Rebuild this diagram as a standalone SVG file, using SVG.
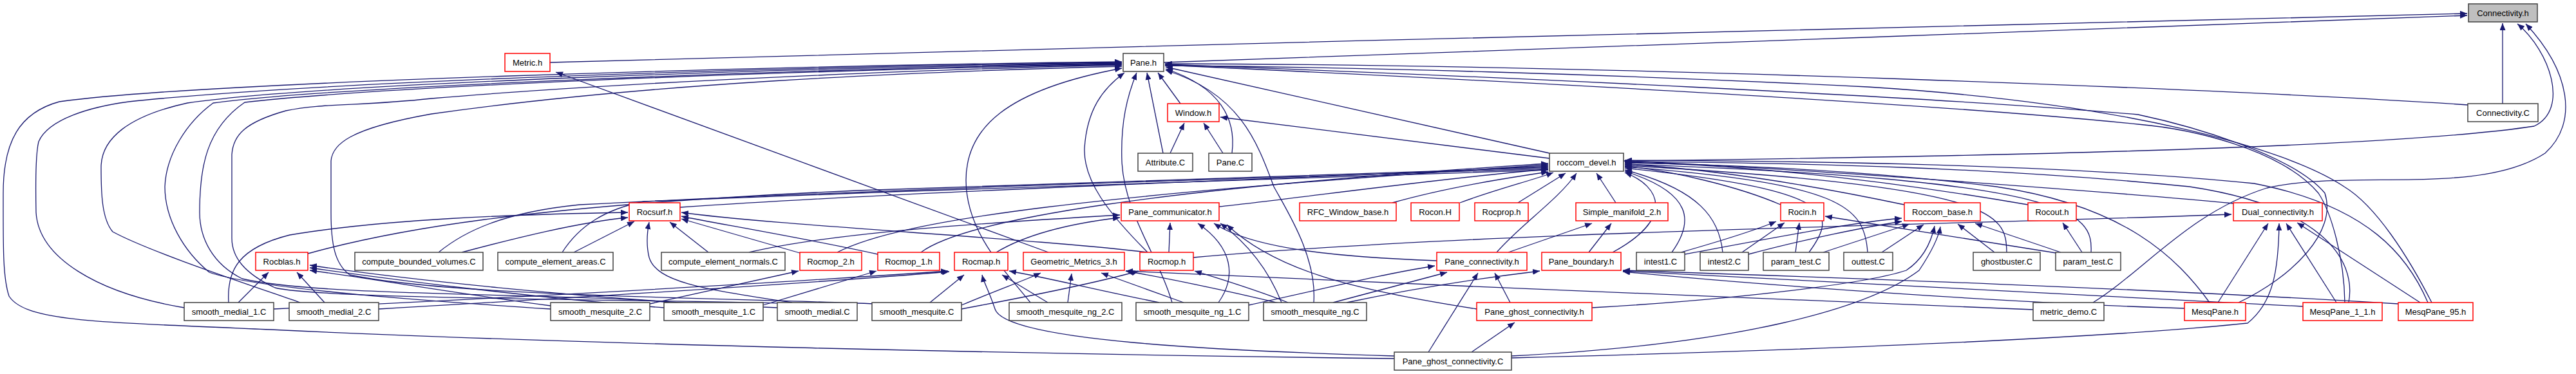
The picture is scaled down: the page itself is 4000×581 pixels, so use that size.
<svg xmlns="http://www.w3.org/2000/svg" width="4000" height="581" viewBox="0 0 4000 581">
<defs>
<marker id="a" viewBox="0 0 11 9" refX="11" refY="4.5" markerWidth="11" markerHeight="9" markerUnits="userSpaceOnUse" orient="auto"><path d="M0,0L11,4.5L0,9z" fill="#191970"/></marker>
<style>
.nd rect{fill:#fff;stroke:#404040;stroke-width:1.5}
.rd rect{stroke:#ff0000}
.gr rect{fill:#bfbfbf}
text{font-family:"Liberation Sans",Arial,sans-serif;font-size:13px;text-anchor:middle;fill:#000}
#edges path{fill:none;stroke:#191970;stroke-width:1.3;marker-end:url(#a)}
</style>
</defs>
<rect width="4000" height="581" fill="#fff"/>
<g id="edges">
<path d="M854,97 C1800,72 3000,38 3831,21"/>
<path d="M1807,97 C2400,80 3200,44 3831,24"/>
<path d="M3886,161 L3886,36"/>
<path d="M2521,250 C3000,244 3700,232 3935,196 C3990,170 3960,80 3909,37"/>
<path d="M3250,470 C3330,420 3400,330 3520,292 C3650,262 3850,305 3952,238 C4005,190 3990,110 3922,37"/>
<path d="M1628,392 L863,112"/>
<path d="M1833,161 L1798,113"/>
<path d="M1806,238 L1781,113"/>
<path d="M1913,238 C1920,185 1895,135 1810,107"/>
<path d="M2406,238 L1810,104"/>
<path d="M2040,470 C2045,400 2000,330 1978,290 C1952,220 1925,145 1810,109"/>
<path d="M1782,392 C1720,330 1682,280 1684,230 C1688,170 1712,138 1746,113"/>
<path d="M1820,470 C1800,400 1745,330 1742,250 C1740,190 1750,150 1765,113"/>
<path d="M2165,557 C1600,550 900,535 420,512 C150,500 40,500 14,460 C4,430 5,380 5,300 C5,220 30,175 92,158 C300,128 1200,102 1742,96"/>
<path d="M286,478 C150,455 60,400 56,330 C55,280 55,240 60,220 C75,185 140,166 200,158 C500,126 1200,104 1742,97"/>
<path d="M466,470 C380,440 230,390 175,360 C158,340 157,300 157,260 C157,215 200,180 291,160 C500,130 1200,106 1742,98"/>
<path d="M855,480 C700,470 400,450 325,423 C285,390 256,340 256,290 C258,240 290,190 331,160 C500,136 1200,108 1742,99"/>
<path d="M1040,470 C900,455 500,462 376,433 C330,410 310,370 310,330 C310,260 320,200 380,159 C600,134 1200,110 1742,100"/>
<path d="M1212,471 C1000,465 500,465 427,447 C380,425 360,400 360,370 L360,240 C362,210 380,190 444,172 C500,160 560,165 670,153 C1000,125 1500,106 1742,101"/>
<path d="M1360,472 C1100,462 700,460 543,427 C520,410 514,380 514,330 L514,250 C516,225 540,200 670,177 C1000,130 1400,112 1742,103"/>
<path d="M1600,470 C1560,420 1500,360 1500,280 C1500,200 1560,140 1742,106"/>
<path d="M3832,163 C3500,140 2500,100 1809,99"/>
<path d="M3476,470 C3560,430 3630,360 3610,300 C3560,240 3400,195 3320,178 C3000,150 2300,118 1809,100"/>
<path d="M3641,470 C3640,400 3620,330 3600,300 C3540,230 3400,200 3320,193 C3000,160 2300,124 1809,101"/>
<path d="M3776,470 C3740,400 3690,320 3640,290 C3550,230 3300,160 2900,135 C2500,115 2100,104 1809,102"/>
<path d="M1817,238 L1839,191"/>
<path d="M1899,238 L1869,191"/>
<path d="M2406,246 L1895,182"/>
<path d="M1056,322 C1500,292 2100,275 2404,258"/>
<path d="M478,394 C600,360 800,320 1330,296 C1800,280 2200,266 2404,260"/>
<path d="M681,392 C720,360 780,330 900,318 C1400,292 2100,272 2404,262"/>
<path d="M873,392 C900,350 940,325 1000,313 C1500,292 2100,274 2404,264"/>
<path d="M1893,321 C2000,310 2250,275 2404,263"/>
<path d="M1300,392 C1400,340 1700,302 2404,256"/>
<path d="M1430,392 C1500,340 1800,292 2404,254"/>
<path d="M2162,315 C2250,290 2350,275 2404,267"/>
<path d="M2267,315 C2320,295 2380,280 2412,268"/>
<path d="M2357,315 L2431,269"/>
<path d="M2324,392 C2360,350 2420,310 2448,269"/>
<path d="M2509,315 L2479,269"/>
<path d="M2765,318 C2700,290 2600,266 2523,258"/>
<path d="M2957,318 C2800,285 2650,262 2523,255"/>
<path d="M3149,318 C2900,275 2700,256 2523,252"/>
<path d="M3468,316 C3300,300 2800,262 2523,250"/>
<path d="M2596,392 C2630,345 2630,300 2523,266"/>
<path d="M2675,392 C2670,340 2640,295 2523,264"/>
<path d="M2809,392 C2855,330 2850,295 2523,261"/>
<path d="M2900,392 C2895,320 2860,285 2523,259"/>
<path d="M3116,392 C3115,330 3100,290 2523,257"/>
<path d="M3247,392 C3250,330 3220,280 2523,255"/>
<path d="M3431,470 C3380,400 3300,320 3100,290 C2900,265 2700,256 2523,253"/>
<path d="M3647,470 C3660,400 3600,320 3400,290 C3100,260 2800,253 2523,251"/>
<path d="M3770,470 C3740,400 3680,320 3500,285 C3200,255 2800,250 2523,249"/>
<path d="M2504,392 C2600,340 2580,290 2523,268"/>
<path d="M2616,395 C2750,370 2880,345 2953,339"/>
<path d="M2715,395 C2800,372 2900,352 2953,344"/>
<path d="M2831,392 L2965,348"/>
<path d="M2922,392 L2987,349"/>
<path d="M3097,392 L3040,348"/>
<path d="M3200,392 L3067,347"/>
<path d="M2347,553 C2700,535 2900,480 2980,420 C3000,390 3010,370 3013,352"/>
<path d="M2472,478 C2700,465 2900,440 2960,420 C2990,400 3000,370 3004,351"/>
<path d="M2610,392 C2680,372 2730,356 2758,344"/>
<path d="M2705,392 L2771,346"/>
<path d="M2788,392 L2794,346"/>
<path d="M3199,394 L2834,336"/>
<path d="M3233,392 L3203,346"/>
<path d="M3444,470 L3522,347"/>
<path d="M3628,470 L3550,347"/>
<path d="M3758,470 L3567,346"/>
<path d="M2347,556 C2900,542 3300,522 3490,502 C3530,470 3538,420 3539,347"/>
<path d="M1853,400 C2300,360 3000,350 3465,333"/>
<path d="M3392,479 C3100,470 2700,440 2520,422"/>
<path d="M3576,476 C3200,456 2700,432 2520,421"/>
<path d="M3724,472 C3300,446 2750,428 2520,420"/>
<path d="M2091,470 C2200,447 2300,432 2391,421"/>
<path d="M2342,392 L2472,347"/>
<path d="M2467,392 L2502,347"/>
<path d="M2070,470 L2247,423"/>
<path d="M1939,474 C2050,450 2150,425 2228,413"/>
<path d="M2218,547 L2295,424"/>
<path d="M2345,470 L2321,424"/>
<path d="M2285,547 L2352,501"/>
<path d="M1547,392 C1600,360 1680,345 1739,338"/>
<path d="M1163,392 C1300,360 1550,345 1739,334"/>
<path d="M1815,392 L1817,346"/>
<path d="M1892,470 C1920,430 1915,385 1860,347"/>
<path d="M2231,405 C2100,400 1950,390 1885,347"/>
<path d="M1990,470 C1970,420 1940,380 1895,347"/>
<path d="M2293,480 C2100,450 1980,420 1905,349"/>
<path d="M425,480 C800,462 1200,440 1472,421"/>
<path d="M588,480 C900,462 1250,441 1474,422"/>
<path d="M1444,470 L1497,427"/>
<path d="M2165,553 C1900,545 1560,530 1545,480 C1535,450 1528,440 1525,427"/>
<path d="M1627,470 L1556,427"/>
<path d="M1800,470 C1700,450 1620,430 1567,421"/>
<path d="M1493,474 C1550,450 1590,436 1616,424"/>
<path d="M1658,470 L1664,425"/>
<path d="M1838,470 L1710,424"/>
<path d="M3157,481 C2800,470 2200,440 1748,421"/>
<path d="M1990,472 C1900,450 1800,430 1748,421"/>
<path d="M1493,480 C1600,460 1700,440 1768,421"/>
<path d="M2000,470 C1950,450 1900,435 1855,421"/>
<path d="M1009,472 L1240,421"/>
<path d="M1185,474 L1361,421"/>
<path d="M370,470 L417,423"/>
<path d="M504,470 L461,423"/>
<path d="M855,475 C700,455 560,430 481,420"/>
<path d="M1031,478 C800,460 580,430 481,416"/>
<path d="M1207,478 C900,465 600,430 481,412"/>
<path d="M355,470 C352,420 370,385 450,365 C600,340 800,333 975,330"/>
<path d="M717,392 C800,370 900,345 975,338"/>
<path d="M891,392 L985,344"/>
<path d="M1100,392 L1040,345"/>
<path d="M1230,470 C1100,450 1020,440 1008,400 C1003,380 1005,360 1008,345"/>
<path d="M1242,393 L1058,340"/>
<path d="M1363,395 C1250,370 1100,345 1058,336"/>
<path d="M1782,392 C1600,370 1200,350 1058,330"/>
</g>
<g id="Connectivity_h" class="nd gr"><rect x="3833" y="6" width="107" height="28"/><text x="3886.5" y="24.5">Connectivity.h</text></g>
<g id="Metric_h" class="nd rd"><rect x="784" y="83" width="70" height="28"/><text x="819" y="101.5">Metric.h</text></g>
<g id="Pane_h" class="nd"><rect x="1744" y="83" width="63" height="28"/><text x="1775.5" y="101.5">Pane.h</text></g>
<g id="Window_h" class="nd rd"><rect x="1813" y="161" width="80" height="28"/><text x="1853" y="179.5">Window.h</text></g>
<g id="Connectivity_C" class="nd"><rect x="3832" y="161" width="109" height="28"/><text x="3886.5" y="179.5">Connectivity.C</text></g>
<g id="Attribute_C" class="nd"><rect x="1767" y="238" width="85" height="28"/><text x="1809.5" y="256.5">Attribute.C</text></g>
<g id="Pane_C" class="nd"><rect x="1877" y="238" width="67" height="28"/><text x="1910.5" y="256.5">Pane.C</text></g>
<g id="roccom_devel_h" class="nd"><rect x="2406" y="238" width="115" height="28"/><text x="2463.5" y="256.5">roccom_devel.h</text></g>
<g id="Rocsurf_h" class="nd rd"><rect x="977" y="315" width="79" height="28"/><text x="1016.5" y="333.5">Rocsurf.h</text></g>
<g id="Pane_communicator_h" class="nd rd"><rect x="1741" y="315" width="152" height="28"/><text x="1817" y="333.5">Pane_communicator.h</text></g>
<g id="RFC_Window_base_h" class="nd rd"><rect x="2018" y="315" width="150" height="28"/><text x="2093" y="333.5">RFC_Window_base.h</text></g>
<g id="Rocon_H" class="nd rd"><rect x="2191" y="315" width="75" height="28"/><text x="2228.5" y="333.5">Rocon.H</text></g>
<g id="Rocprop_h" class="nd rd"><rect x="2290" y="315" width="83" height="28"/><text x="2331.5" y="333.5">Rocprop.h</text></g>
<g id="Simple_manifold_2_h" class="nd rd"><rect x="2447" y="315" width="143" height="28"/><text x="2518.5" y="333.5">Simple_manifold_2.h</text></g>
<g id="Rocin_h" class="nd rd"><rect x="2765" y="315" width="67" height="28"/><text x="2798.5" y="333.5">Rocin.h</text></g>
<g id="Roccom_base_h" class="nd rd"><rect x="2957" y="315" width="118" height="28"/><text x="3016" y="333.5">Roccom_base.h</text></g>
<g id="Rocout_h" class="nd rd"><rect x="3149" y="315" width="75" height="28"/><text x="3186.5" y="333.5">Rocout.h</text></g>
<g id="Dual_connectivity_h" class="nd rd"><rect x="3468" y="315" width="138" height="28"/><text x="3537" y="333.5">Dual_connectivity.h</text></g>
<g id="Rocblas_h" class="nd rd"><rect x="397" y="392" width="81" height="28"/><text x="437.5" y="410.5">Rocblas.h</text></g>
<g id="compute_bounded_volumes_C" class="nd"><rect x="551" y="392" width="199" height="28"/><text x="650.5" y="410.5">compute_bounded_volumes.C</text></g>
<g id="compute_element_areas_C" class="nd"><rect x="773" y="392" width="179" height="28"/><text x="862.5" y="410.5">compute_element_areas.C</text></g>
<g id="compute_element_normals_C" class="nd"><rect x="1027" y="392" width="192" height="28"/><text x="1123" y="410.5">compute_element_normals.C</text></g>
<g id="Rocmop_2_h" class="nd rd"><rect x="1242" y="392" width="96" height="28"/><text x="1290" y="410.5">Rocmop_2.h</text></g>
<g id="Rocmop_1_h" class="nd rd"><rect x="1363" y="392" width="96" height="28"/><text x="1411" y="410.5">Rocmop_1.h</text></g>
<g id="Rocmap_h" class="nd rd"><rect x="1482" y="392" width="83" height="28"/><text x="1523.5" y="410.5">Rocmap.h</text></g>
<g id="Geometric_Metrics_3_h" class="nd rd"><rect x="1589" y="392" width="157" height="28"/><text x="1667.5" y="410.5">Geometric_Metrics_3.h</text></g>
<g id="Rocmop_h" class="nd rd"><rect x="1770" y="392" width="83" height="28"/><text x="1811.5" y="410.5">Rocmop.h</text></g>
<g id="Pane_connectivity_h" class="nd rd"><rect x="2231" y="392" width="140" height="28"/><text x="2301" y="410.5">Pane_connectivity.h</text></g>
<g id="Pane_boundary_h" class="nd rd"><rect x="2394" y="392" width="123" height="28"/><text x="2455.5" y="410.5">Pane_boundary.h</text></g>
<g id="intest1_C" class="nd"><rect x="2541" y="392" width="75" height="28"/><text x="2578.5" y="410.5">intest1.C</text></g>
<g id="intest2_C" class="nd"><rect x="2640" y="392" width="75" height="28"/><text x="2677.5" y="410.5">intest2.C</text></g>
<g id="param_test_C_1" class="nd"><rect x="2738" y="392" width="102" height="28"/><text x="2789" y="410.5">param_test.C</text></g>
<g id="outtest_C" class="nd"><rect x="2863" y="392" width="76" height="28"/><text x="2901" y="410.5">outtest.C</text></g>
<g id="ghostbuster_C" class="nd"><rect x="3064" y="392" width="104" height="28"/><text x="3116" y="410.5">ghostbuster.C</text></g>
<g id="param_test_C_2" class="nd"><rect x="3192" y="392" width="101" height="28"/><text x="3242.5" y="410.5">param_test.C</text></g>
<g id="smooth_medial_1_C" class="nd"><rect x="286" y="470" width="139" height="28"/><text x="355.5" y="488.5">smooth_medial_1.C</text></g>
<g id="smooth_medial_2_C" class="nd"><rect x="449" y="470" width="139" height="28"/><text x="518.5" y="488.5">smooth_medial_2.C</text></g>
<g id="smooth_mesquite_2_C" class="nd"><rect x="855" y="470" width="154" height="28"/><text x="932" y="488.5">smooth_mesquite_2.C</text></g>
<g id="smooth_mesquite_1_C" class="nd"><rect x="1031" y="470" width="154" height="28"/><text x="1108" y="488.5">smooth_mesquite_1.C</text></g>
<g id="smooth_medial_C" class="nd"><rect x="1207" y="470" width="124" height="28"/><text x="1269" y="488.5">smooth_medial.C</text></g>
<g id="smooth_mesquite_C" class="nd"><rect x="1354" y="470" width="139" height="28"/><text x="1423.5" y="488.5">smooth_mesquite.C</text></g>
<g id="smooth_mesquite_ng_2_C" class="nd"><rect x="1567" y="470" width="175" height="28"/><text x="1654.5" y="488.5">smooth_mesquite_ng_2.C</text></g>
<g id="smooth_mesquite_ng_1_C" class="nd"><rect x="1764" y="470" width="175" height="28"/><text x="1851.5" y="488.5">smooth_mesquite_ng_1.C</text></g>
<g id="smooth_mesquite_ng_C" class="nd"><rect x="1962" y="470" width="160" height="28"/><text x="2042" y="488.5">smooth_mesquite_ng.C</text></g>
<g id="Pane_ghost_connectivity_h" class="nd rd"><rect x="2293" y="470" width="179" height="28"/><text x="2382.5" y="488.5">Pane_ghost_connectivity.h</text></g>
<g id="metric_demo_C" class="nd"><rect x="3157" y="470" width="110" height="28"/><text x="3212" y="488.5">metric_demo.C</text></g>
<g id="MesqPane_h" class="nd rd"><rect x="3392" y="470" width="95" height="28"/><text x="3439.5" y="488.5">MesqPane.h</text></g>
<g id="MesqPane_1_1_h" class="nd rd"><rect x="3576" y="470" width="123" height="28"/><text x="3637.5" y="488.5">MesqPane_1_1.h</text></g>
<g id="MesqPane_95_h" class="nd rd"><rect x="3724" y="470" width="116" height="28"/><text x="3782" y="488.5">MesqPane_95.h</text></g>
<g id="Pane_ghost_connectivity_C" class="nd"><rect x="2165" y="547" width="182" height="28"/><text x="2256" y="565.5">Pane_ghost_connectivity.C</text></g>
</svg>
